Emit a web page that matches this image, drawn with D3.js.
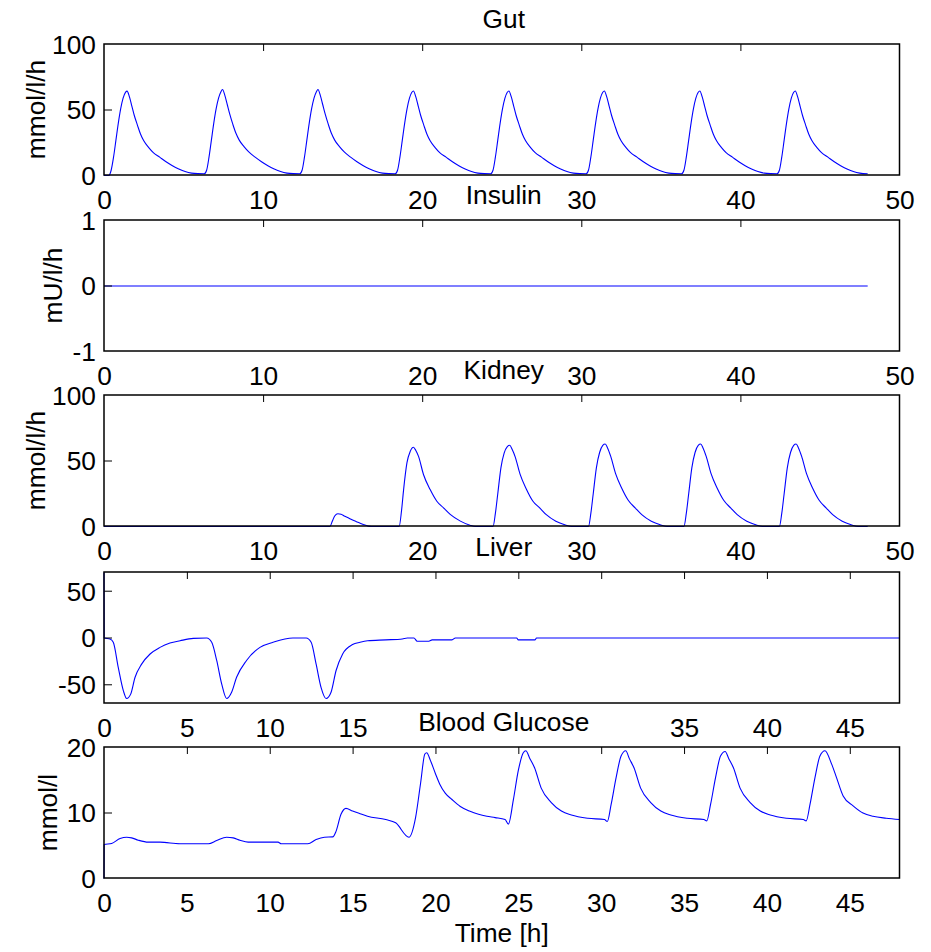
<!DOCTYPE html>
<html>
<head>
<meta charset="utf-8">
<script src="https://cdn.jsdelivr.net/npm/d3@7"></script>
<style>
  html, body { margin: 0; padding: 0; background: #fff; }
  svg { display: block; }
  text { font-family: "Liberation Sans", Arial, sans-serif; fill: #000; }
</style>
</head>
<body>
<svg id="chart" width="931" height="952"></svg>
<script>
// ---------------- DATA ----------------
const panelTitles = ["Gut", "Insulin", "Kidney", "Liver", "Blood Glucose"];
const yLabels = ["mmol/l/h", "mU/l/h", "mmol/l/h", "", "mmol/l"];
const xLabel = "Time [h]";
const xDomains = [[0, 50], [0, 50], [0, 50], [0, 48], [0, 48]];
const xTicks = [
  [0, 10, 20, 30, 40, 50],
  [0, 10, 20, 30, 40, 50],
  [0, 10, 20, 30, 40, 50],
  [0, 5, 10, 15, 20, 25, 30, 35, 40, 45],
  [0, 5, 10, 15, 20, 25, 30, 35, 40, 45]
];
const yDomains = [[0, 100], [-1, 1], [0, 100], [-70, 70], [0, 20]];
const yTicks = [[0, 50, 100], [-1, 0, 1], [0, 50, 100], [-50, 0, 50], [0, 10, 20]];

// Gut glucose appearance [time h, mmol/l/h]
const gut = [
  [0,0],[0.3,0],[0.45,4],[0.6,14],[0.75,27],[0.9,40],[1.05,51],[1.2,59],[1.35,63.5],[1.45,64.4],[1.6,60],[1.75,53],[1.9,46],[2.1,38.5],[2.3,31.5],[2.5,26.5],[2.8,21.5],[3.1,17.5],[3.5,14],[3.9,10.5],[4.3,7.5],[4.7,5],[5.1,3],[5.5,1.8],[5.9,1.4],[6.3,1.3],
  [6.45,4],[6.6,14],[6.75,27],[6.9,40],[7.05,51],[7.2,59],[7.35,64],[7.45,65.6],[7.6,61],[7.75,54],[7.9,47],[8.1,39],[8.3,32],[8.5,27],[8.8,22],[9.1,18],[9.5,14],[9.9,10.5],[10.3,7.5],[10.7,5],[11.1,3],[11.5,1.8],[11.9,1.4],[12.3,1.3],
  [12.45,4],[12.6,14],[12.75,27],[12.9,40],[13.05,51],[13.2,59],[13.35,64],[13.45,65.6],[13.6,61],[13.75,54],[13.9,47],[14.1,39],[14.3,32],[14.5,27],[14.8,22],[15.1,18],[15.5,14],[15.9,10.5],[16.3,7.5],[16.7,5],[17.1,3],[17.5,1.8],[17.9,1.4],[18.3,1.3],
  [18.45,4],[18.6,14],[18.75,27],[18.9,40],[19.05,51],[19.2,59],[19.35,63.5],[19.45,64.5],[19.6,60],[19.75,53],[19.9,46],[20.1,38.5],[20.3,31.5],[20.5,26.5],[20.8,21.5],[21.1,17.5],[21.5,14],[21.9,10.5],[22.3,7.5],[22.7,5],[23.1,3],[23.5,1.8],[23.9,1.4],[24.3,1.3],
  [24.45,4],[24.6,14],[24.75,27],[24.9,40],[25.05,51],[25.2,59],[25.35,63.5],[25.45,64.5],[25.6,60],[25.75,53],[25.9,46],[26.1,38.5],[26.3,31.5],[26.5,26.5],[26.8,21.5],[27.1,17.5],[27.5,14],[27.9,10.5],[28.3,7.5],[28.7,5],[29.1,3],[29.5,1.8],[29.9,1.4],[30.3,1.3],
  [30.45,4],[30.6,14],[30.75,27],[30.9,40],[31.05,51],[31.2,59],[31.35,63.5],[31.45,64.5],[31.6,60],[31.75,53],[31.9,46],[32.1,38.5],[32.3,31.5],[32.5,26.5],[32.8,21.5],[33.1,17.5],[33.5,14],[33.9,10.5],[34.3,7.5],[34.7,5],[35.1,3],[35.5,1.8],[35.9,1.4],[36.3,1.3],
  [36.45,4],[36.6,14],[36.75,27],[36.9,40],[37.05,51],[37.2,59],[37.35,63.5],[37.45,64.5],[37.6,60],[37.75,53],[37.9,46],[38.1,38.5],[38.3,31.5],[38.5,26.5],[38.8,21.5],[39.1,17.5],[39.5,14],[39.9,10.5],[40.3,7.5],[40.7,5],[41.1,3],[41.5,1.8],[41.9,1.4],[42.3,1.3],
  [42.45,4],[42.6,14],[42.75,27],[42.9,40],[43.05,51],[43.2,59],[43.35,63.5],[43.45,64.5],[43.6,60],[43.75,53],[43.9,46],[44.1,38.5],[44.3,31.5],[44.5,26.5],[44.8,21.5],[45.1,17.5],[45.5,14],[45.9,10.5],[46.3,7.5],[46.7,5],[47.1,3],[47.5,1.8],[48.0,1.3]
];

// Insulin infusion [time h, mU/l/h]
const insulin = [[0,0],[48,0]];

// Renal glucose excretion [time h, mmol/l/h]
const kidney = [
  [0,0],[14.2,0],[14.35,4],[14.5,8],[14.7,9.7],[14.9,9.3],[15.1,8],[15.4,6.3],[15.7,4.5],[16.0,3],[16.3,1.5],[16.6,0.3],[16.8,0],
  [18.55,0],[18.7,12],[18.83,28],[19.04,48.5],[19.25,57.5],[19.45,60.5],[19.6,58],[19.77,53.5],[20.08,39.7],[20.5,28.2],[20.92,19.3],[21.34,14.2],[21.76,9.2],[22.4,4.1],[23.0,1.0],[23.33,0],
  [24.45,0],[24.6,10],[24.75,25],[24.95,45],[25.15,56],[25.35,61],[25.5,62],[25.65,59],[25.85,53],[26.15,40],[26.55,28.5],[26.95,19.5],[27.4,14],[27.8,9],[28.4,4],[29.0,1.2],[29.4,0],
  [30.45,0],[30.6,10],[30.75,25],[30.95,45],[31.15,56.5],[31.35,62],[31.5,63],[31.65,60],[31.85,53.5],[32.15,40.5],[32.55,29],[32.95,20],[33.4,14],[33.8,9],[34.4,4],[35.0,1.2],[35.4,0],
  [36.45,0],[36.6,10],[36.75,25],[36.95,45],[37.15,56.5],[37.35,62],[37.5,63],[37.65,60],[37.85,53.5],[38.15,40.5],[38.55,29],[38.95,20],[39.4,14],[39.8,9],[40.4,4],[41.0,1.2],[41.4,0],
  [42.45,0],[42.6,10],[42.75,25],[42.95,45],[43.15,56.5],[43.35,62],[43.5,63],[43.65,60],[43.85,53.5],[44.15,40.5],[44.55,29],[44.95,20],[45.4,14],[45.8,9],[46.4,4],[47.0,1.2],[47.4,0],[48,0]
];

// Hepatic glucose balance [time h, mmol/l/h]
const liver = [
  [0,70],[0.01,0],[0.36,-1.1],[0.56,-4.6],[0.86,-31.5],[1.17,-56.5],[1.37,-64.7],[1.61,-60],[1.87,-42.2],[2.27,-27.9],[2.78,-17.1],[3.38,-10],[3.98,-5.4],[4.59,-2.9],[5.39,-0.4],[6.2,0],
  [6.5,-4.6],[6.8,-24],[7.1,-49],[7.4,-64.7],[7.7,-58],[8.0,-42],[8.6,-24],[9.41,-10],[10.2,-4.6],[11.4,0],[12.2,0],
  [12.5,-4.6],[12.8,-28],[13.1,-53],[13.4,-64.7],[13.7,-58],[14.0,-35],[14.4,-17],[15.0,-7],[15.45,-4.6],[15.9,-3],[17.0,-2],[18.0,-1],[18.3,0],[18.7,0],
  [18.9,-3.5],[19.6,-3.5],[19.8,-2],[21.0,-2],[21.2,0],[24.9,0],[25.0,-2],[26.0,-2],[26.1,0],[48,0]
];

// Blood glucose concentration [time h, mmol/l]
const glucose = [
  [0,0],[0.01,5.2],[0.46,5.35],[0.97,6.1],[1.37,6.3],[1.67,6.2],[2.07,5.85],[2.67,5.55],[3.38,5.55],[4.59,5.3],[6.3,5.3],[6.8,5.8],[7.4,6.3],[7.8,6.2],[8.2,5.85],[8.7,5.55],[10.5,5.55],[10.7,5.3],[12.3,5.3],[12.8,5.95],[13.3,6.3],[13.8,6.35],[14.0,7.2],[14.3,9.8],[14.6,10.7],[15.0,10.3],[15.45,9.9],[15.9,9.5],[17.0,9.0],[17.6,8.5],[18.4,6.3],
  [18.8,9.3],[19.1,14.5],[19.36,19.0],[19.47,19.2],[19.7,18],[20.0,16],[20.26,14.4],[20.6,13],[20.98,12.1],[21.5,11],[22.05,10.3],[22.6,9.8],[23.1,9.5],[23.6,9.3],[24.2,9.0],[24.4,8.3],
  [24.7,12],[25.0,16.5],[25.3,19.2],[25.45,19.5],[25.7,18.3],[25.98,16.9],[26.38,13.8],[26.99,11.6],[27.6,10.3],[28.2,9.7],[29.2,9.2],[30.2,9.0],[30.37,8.7],
  [30.6,11.3],[30.9,15.4],[31.2,18.7],[31.48,19.5],[31.7,18.3],[31.98,16.9],[32.38,13.8],[32.99,11.6],[33.6,10.3],[34.2,9.7],[35.2,9.2],[36.2,9.0],[36.37,8.8],
  [36.6,11.3],[36.9,15.4],[37.2,18.7],[37.48,19.4],[37.7,18.3],[37.98,16.9],[38.38,13.8],[38.99,11.6],[39.6,10.3],[40.2,9.7],[41.2,9.2],[42.2,9.0],[42.37,8.8],
  [42.6,11.3],[42.9,15.4],[43.2,18.7],[43.5,19.5],[43.9,17.5],[44.2,15.4],[44.6,12.6],[45.2,11.1],[45.8,10.0],[46.4,9.5],[47.2,9.2],[48,9.0]
];

const seriesList = [gut, insulin, kidney, liver, glucose];

// ---------------- LAYOUT ----------------
const left = 104, right = 899.5, panelH = 131;
const panelTops = [44, 220, 395, 572, 747];
const FS = 26.3;
const fmt = d => String(d);

const svg = d3.select("#chart");
svg.append("rect").attr("width", 931).attr("height", 952).attr("fill", "#fff");

seriesList.forEach((data, i) => {
  const top = panelTops[i];
  const x = d3.scaleLinear().domain(xDomains[i]).range([left, right]);
  const y = d3.scaleLinear().domain(yDomains[i]).range([top + panelH, top]);
  const g = svg.append("g").attr("class", "panel");

  // curve
  g.append("path")
    .datum(data)
    .attr("fill", "none")
    .attr("stroke", "#0000ff")
    .attr("stroke-width", 1.1)
    .attr("stroke-linejoin", "round")
    .attr("transform", "translate(0,0.5)")
    .attr("d", d3.line().curve(d3.curveMonotoneX).x(d => x(d[0])).y(d => y(d[1])));

  // top ticks (inward)
  const topAx = g.append("g").attr("transform", `translate(0,${top})`)
    .call(d3.axisTop(x).tickValues(xTicks[i].filter(v => v > xDomains[i][0] && v < xDomains[i][1]))
      .tickSize(-7).tickFormat(""));
  topAx.select(".domain").remove();
  topAx.selectAll("line").attr("stroke", "#000").attr("stroke-width", 1);

  // bottom tick labels
  const botAx = g.append("g").attr("class", "xlabels").attr("transform", `translate(0,${top + panelH})`)
    .call(d3.axisBottom(x).tickValues(xTicks[i]).tickSize(0).tickPadding(15.5).tickFormat(fmt));
  botAx.select(".domain").remove();
  botAx.selectAll("text").attr("font-size", FS).attr("font-family", "Liberation Sans, Arial, sans-serif").attr("fill", "#000");

  // left axis (inward ticks)
  const leftAx = g.append("g").attr("transform", `translate(${left},0)`)
    .call(d3.axisLeft(y).tickValues(yTicks[i]).tickSize(-8).tickPadding(8).tickFormat(fmt));
  leftAx.select(".domain").remove();
  leftAx.selectAll("line").attr("stroke", "#000").attr("stroke-width", 1)
    .filter(d => d === yDomains[i][0] || d === yDomains[i][1]).remove();
  leftAx.selectAll("text").attr("font-size", FS).attr("font-family", "Liberation Sans, Arial, sans-serif").attr("fill", "#000").attr("dy", "0.36em");

  // box
  g.append("rect").attr("x", left).attr("y", top).attr("width", right - left).attr("height", panelH)
    .attr("fill", "none").attr("stroke", "#000").attr("stroke-width", 1.5);

  // y label
  if (yLabels[i]) {
    g.append("text")
      .attr("transform", `translate(${i === 4 ? 57 : (i === 1 ? 62 : 45)},${top + panelH / 2}) rotate(-90)`)
      .attr("text-anchor", "middle")
      .attr("font-size", FS)
      .text(yLabels[i]);
  }
});

// titles (drawn last; tick labels covered by a title are hidden)
panelTitles.forEach((t, i) => {
  const cx = (left + right) / 2 + 2;
  const by = panelTops[i] - 16.5;
  const tt = svg.append("text").attr("x", cx).attr("y", by).attr("text-anchor", "middle")
    .attr("font-size", FS).text(t);
  const bb = tt.node().getBBox();
  const pad = 12;
  svg.selectAll(".xlabels text").each(function() {
    const b = this.getBBox();
    const m = this.getCTM();
    const bx = b.x + m.e, byy = b.y + m.f;
    if (bx < bb.x + bb.width + pad && bx + b.width > bb.x - pad && byy < bb.y + bb.height && byy + b.height > bb.y) {
      d3.select(this).attr("opacity", 0);
    }
  });
});

// x axis label
svg.append("text").attr("x", (left + right) / 2).attr("y", 942).attr("text-anchor", "middle")
  .attr("font-size", FS).text(xLabel);
</script>
</body>
</html>
